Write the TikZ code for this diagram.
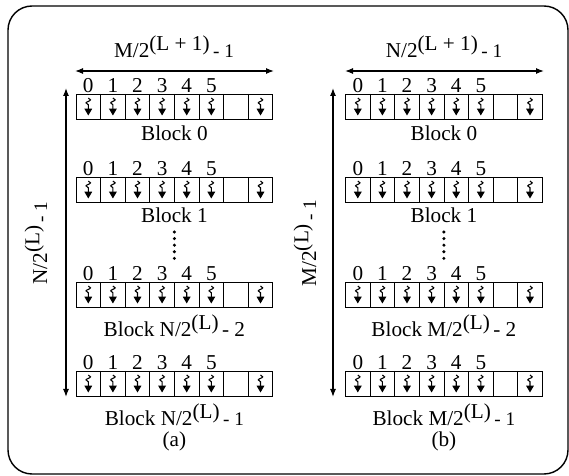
\documentclass[tikz,border=0pt]{standalone}
\usepackage{fontspec}
\setmainfont{Liberation Serif}
\usetikzlibrary{arrows.meta,decorations.pathmorphing}
\def\cw{24.6}
\def\raisedpart#1{\raisebox{.36em}{#1}}
\def\tailpart#1{{\fontsize{9.6}{11}\selectfont #1}}
\def\blockrow[#1](#2,#3){
	\draw (#2,#3) rectangle ({#2+8*\cw},{#3+25});
	\foreach \i in {1,...,7}
		\draw ({#2+\i*\cw},#3) -- ({#2+\i*\cw},{#3+25});
	\foreach \i in {0,...,5}{
		\node[anchor=base,inner sep=0pt] (#1-\i) at ({#2+(\i+0.5)*\cw},{#3-1.5}) {\i};
		\draw[squig] ({#2+(\i+0.5)*\cw},{#3+4}) -- ({#2+(\i+0.5)*\cw},{#3+21.5});
	}
	\draw[squig] ({#2+7.5*\cw},{#3+4}) -- ({#2+7.5*\cw},{#3+21.5});
}

\begin{document}
\begin{tikzpicture}[x=0.5pt,y=-0.5pt,font=\fontsize{10.6}{12.5}\selectfont,
	squig/.style={line width=0.55pt,decorate,decoration={snake,amplitude=1.1pt,segment length=3pt,post length=4.4pt},-{Triangle[length=3.4pt,width=3.8pt]}},
	dim/.style={line width=0.6pt,{Latex[length=4pt,width=3pt]}-{Latex[length=4pt,width=3pt]}}]
				\useasboundingbox (0,0) rectangle (569,476);
				\draw[line width=0.7pt,rounded corners=12pt] (8,6) rectangle (568,474);

				\coordinate (a-west) at (75,71);
				\coordinate (a-east) at (274,71);
				\coordinate (a-top) at (66,88);
				\coordinate (a-bot) at (66,397);
				\draw[dim] (a-west) -- (a-east);
				\draw[dim] (a-top) -- (a-bot);
				\node[anchor=base] (a-width) at (174,58) {M/2\raisedpart{(L + 1)}\,\tailpart{- 1}};
				\node[rotate=90] (a-height) at (36,243) {N/2\raisedpart{(L)}\,\tailpart{- 1}};

				\blockrow[a0](76,94)
				\blockrow[a1](76,177)
				\blockrow[a2](76,282)
				\blockrow[a3](76,371)
				\node[anchor=base] (a0-name) at (174.4,141) {Block 0};
				\node[anchor=base] (a1-name) at (174.4,223) {Block 1};
				\node[anchor=base] (a2-name) at (174.4,337) {Block N/2\raisedpart{(L)}\,- 2};
				\node[anchor=base] (a3-name) at (174.4,426) {Block N/2\raisedpart{(L)}\,\tailpart{- 1}};
				\node[anchor=base] (a-tag) at (174.4,447) {(a)};
				\foreach \k in {0,...,4}
					\fill (174.4,{232+\k*6.6}) circle[radius=0.85pt];

				\coordinate (b-west) at (345,71);
				\coordinate (b-east) at (544,71);
				\coordinate (b-top) at (333,88);
				\coordinate (b-bot) at (333,397);
				\draw[dim] (b-west) -- (b-east);
				\draw[dim] (b-top) -- (b-bot);
				\node[anchor=base] (b-width) at (444,58) {N/2\raisedpart{(L + 1)}\,\tailpart{- 1}};
				\node[rotate=90] (b-height) at (305,243) {M/2\raisedpart{(L)}\,\tailpart{- 1}};

				\blockrow[b0](345.5,94)
				\blockrow[b1](345.5,177)
				\blockrow[b2](345.5,282)
				\blockrow[b3](345.5,371)
				\node[anchor=base] (b0-name) at (443.9,141) {Block 0};
				\node[anchor=base] (b1-name) at (443.9,223) {Block 1};
				\node[anchor=base] (b2-name) at (443.9,337) {Block M/2\raisedpart{(L)}\,- 2};
				\node[anchor=base] (b3-name) at (443.9,426) {Block M/2\raisedpart{(L)}\,\tailpart{- 1}};
				\node[anchor=base] (b-tag) at (443.9,447) {(b)};
				\foreach \k in {0,...,4}
					\fill (443.9,{232+\k*6.6}) circle[radius=0.85pt];
			\end{tikzpicture}
\end{document}
